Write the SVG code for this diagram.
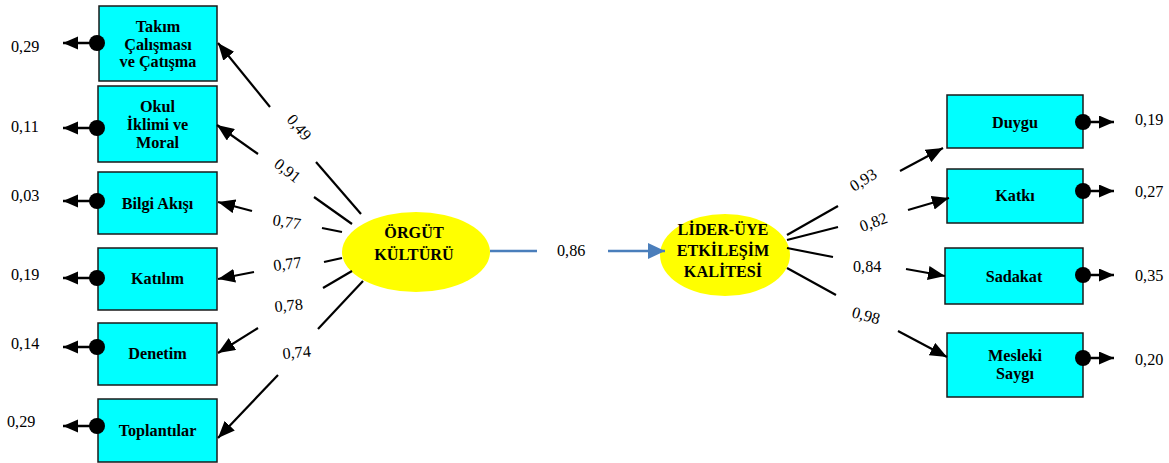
<svg xmlns="http://www.w3.org/2000/svg" width="1169" height="463" viewBox="0 0 1169 463">
  <style>
    .box { fill: #00ffff; stroke: #1a1a1a; stroke-width: 1.5; }
    .lat { fill: #ffff00; stroke: none; }
    .bt { font-family: "Liberation Serif", "Times New Roman", serif; font-weight: bold; font-size: 16.2px; fill: #000; text-anchor: middle; }
    .num { font-family: "Liberation Serif", "Times New Roman", serif; font-size: 16.2px; fill: #000; }
    .ln { stroke: #000; stroke-width: 2.2; fill: none; }
    .arr { stroke: #000; stroke-width: 2.2; fill: none; marker-end: url(#ah); }
    .err { stroke: #000; stroke-width: 2.5; fill: none; marker-end: url(#eh); }
    .dot { fill: #000; }
    .blue { stroke: #4a7ebb; stroke-width: 2.5; fill: none; }
  </style>
  <defs>
    <marker id="ah" markerUnits="userSpaceOnUse" markerWidth="18" markerHeight="14" refX="17" refY="7" orient="auto">
      <path d="M0,0 L17,7 L0,14 z" fill="#000"/>
    </marker>
    <marker id="eh" markerUnits="userSpaceOnUse" markerWidth="16" markerHeight="14" refX="15" refY="6.5" orient="auto">
      <path d="M0,0 L15,6.5 L0,13 z" fill="#000"/>
    </marker>
    <marker id="bh" markerUnits="userSpaceOnUse" markerWidth="18" markerHeight="16" refX="17" refY="8" orient="auto">
      <path d="M0,0 L17,8 L0,16 z" fill="#4a7ebb"/>
    </marker>
  </defs>

  <rect width="1169" height="463" fill="#fff"/>

  <!-- indicators of ÖRGÜT KÜLTÜRÜ -->
  <g id="takim">
    <rect class="box" x="99" y="6" width="118" height="75"/>
    <text class="bt" x="158" y="32">Takım</text>
    <text class="bt" x="158" y="49.5">Çalışması</text>
    <text class="bt" x="158" y="67">ve Çatışma</text>
  </g>
  <g id="okul">
    <rect class="box" x="98" y="86" width="119" height="76"/>
    <text class="bt" x="157.5" y="112">Okul</text>
    <text class="bt" x="157.5" y="130">İklimi ve</text>
    <text class="bt" x="157.5" y="148">Moral</text>
  </g>
  <g id="bilgi">
    <rect class="box" x="98" y="172" width="119" height="62"/>
    <text class="bt" x="157.5" y="209">Bilgi Akışı</text>
  </g>
  <g id="katilim">
    <rect class="box" x="98" y="248" width="119" height="62"/>
    <text class="bt" x="157.5" y="284">Katılım</text>
  </g>
  <g id="denetim">
    <rect class="box" x="98" y="323" width="119" height="62"/>
    <text class="bt" x="157.5" y="359">Denetim</text>
  </g>
  <g id="toplantilar">
    <rect class="box" x="98" y="399" width="119" height="63"/>
    <text class="bt" x="157.5" y="436">Toplantılar</text>
  </g>

  <!-- latent variables -->
  <g id="orgut">
    <ellipse class="lat" cx="416" cy="252" rx="74" ry="40"/>
    <text class="bt" x="414" y="238">ÖRGÜT</text>
    <text class="bt" x="414" y="260">KÜLTÜRÜ</text>
  </g>
  <g id="lmx">
    <ellipse class="lat" cx="725" cy="255" rx="65" ry="41"/>
    <text class="bt" x="723" y="235">LİDER-ÜYE</text>
    <text class="bt" x="723" y="256">ETKİLEŞİM</text>
    <text class="bt" x="723" y="277">KALİTESİ</text>
  </g>

  <!-- indicators of LİDER-ÜYE ETKİLEŞİM KALİTESİ -->
  <g id="duygu">
    <rect class="box" x="947" y="95" width="136" height="53"/>
    <text class="bt" x="1015" y="128">Duygu</text>
  </g>
  <g id="katki">
    <rect class="box" x="947" y="169" width="136" height="54"/>
    <text class="bt" x="1015" y="201">Katkı</text>
  </g>
  <g id="sadakat">
    <rect class="box" x="945" y="248" width="138" height="56"/>
    <text class="bt" x="1014" y="282">Sadakat</text>
  </g>
  <g id="mesleki">
    <rect class="box" x="947" y="333" width="136" height="64"/>
    <text class="bt" x="1015" y="361">Mesleki</text>
    <text class="bt" x="1015" y="379">Saygı</text>
  </g>

  <!-- connectors -->
  <g id="connectors">
    <!-- ÖRGÜT KÜLTÜRÜ to indicators -->
    <line class="ln" x1="361" y1="214" x2="316" y2="162"/>
    <line class="arr" x1="270" y1="107" x2="218" y2="43"/>
    <line class="ln" x1="352" y1="224" x2="314" y2="197"/>
    <line class="arr" x1="258" y1="154" x2="217" y2="125"/>
    <line class="ln" x1="342" y1="232" x2="322" y2="228"/>
    <line class="arr" x1="252" y1="211" x2="218" y2="202"/>
    <line class="ln" x1="342" y1="258" x2="324" y2="262"/>
    <line class="arr" x1="254" y1="272" x2="218" y2="279"/>
    <line class="ln" x1="352" y1="271" x2="323" y2="288"/>
    <line class="arr" x1="258" y1="328" x2="218" y2="353"/>
    <line class="ln" x1="363" y1="281" x2="318" y2="329"/>
    <line class="arr" x1="278" y1="375" x2="218" y2="438"/>

    <!-- structural path -->
    <line class="blue" x1="490" y1="251" x2="537" y2="251"/>
    <line class="blue" x1="608" y1="251" x2="665" y2="251" marker-end="url(#bh)"/>

    <!-- LİDER-ÜYE ETKİLEŞİM KALİTESİ to indicators -->
    <line class="ln" x1="787" y1="235" x2="838" y2="206"/>
    <line class="arr" x1="900" y1="171" x2="943" y2="148"/>
    <line class="ln" x1="787" y1="240" x2="838" y2="227"/>
    <line class="arr" x1="908" y1="210" x2="949" y2="198"/>
    <line class="ln" x1="787" y1="248" x2="833" y2="257"/>
    <line class="arr" x1="906" y1="269" x2="945" y2="276"/>
    <line class="ln" x1="787" y1="268" x2="836" y2="295"/>
    <line class="arr" x1="898" y1="331" x2="947" y2="357"/>

    <!-- error terms, left -->
    <line class="err" x1="97" y1="43" x2="63" y2="43"/>
    <circle class="dot" cx="97" cy="43" r="8"/>
    <line class="err" x1="97" y1="128" x2="63" y2="128"/>
    <circle class="dot" cx="97" cy="128" r="8"/>
    <line class="err" x1="97" y1="201" x2="63" y2="201"/>
    <circle class="dot" cx="97" cy="201" r="8"/>
    <line class="err" x1="97" y1="278" x2="63" y2="278"/>
    <circle class="dot" cx="97" cy="278" r="8"/>
    <line class="err" x1="97" y1="347" x2="63" y2="347"/>
    <circle class="dot" cx="97" cy="347" r="8"/>
    <line class="err" x1="97" y1="426" x2="63" y2="426"/>
    <circle class="dot" cx="97" cy="426" r="8"/>

    <!-- error terms, right -->
    <line class="err" x1="1083" y1="122" x2="1114" y2="122"/>
    <circle class="dot" cx="1083" cy="122" r="8"/>
    <line class="err" x1="1083" y1="191" x2="1114" y2="191"/>
    <circle class="dot" cx="1083" cy="191" r="8"/>
    <line class="err" x1="1083" y1="275" x2="1114" y2="275"/>
    <circle class="dot" cx="1083" cy="275" r="8"/>
    <line class="err" x1="1083" y1="358" x2="1114" y2="358"/>
    <circle class="dot" cx="1083" cy="358" r="8"/>

    <!-- loadings -->
    <text class="num" transform="translate(286,120) rotate(50)">0,49</text>
    <text class="num" transform="translate(273,166) rotate(38)">0,91</text>
    <text class="num" transform="translate(272,225) rotate(9)">0,77</text>
    <text class="num" transform="translate(274,271) rotate(-7)">0,77</text>
    <text class="num" transform="translate(275,312) rotate(-5)">0,78</text>
    <text class="num" transform="translate(283,359) rotate(-5)">0,74</text>
    <text class="num" x="557" y="256">0,86</text>
    <text class="num" transform="translate(854,192) rotate(-32)">0,93</text>
    <text class="num" transform="translate(862,232) rotate(-20)">0,82</text>
    <text class="num" x="853" y="272">0,84</text>
    <text class="num" transform="translate(851,317) rotate(15)">0,98</text>

    <!-- error variances -->
    <text class="num" x="11" y="52">0,29</text>
    <text class="num" x="11" y="132">0,11</text>
    <text class="num" x="11" y="201">0,03</text>
    <text class="num" x="11" y="280">0,19</text>
    <text class="num" x="11" y="349">0,14</text>
    <text class="num" x="7" y="427">0,29</text>
    <text class="num" x="1135" y="125">0,19</text>
    <text class="num" x="1135" y="197">0,27</text>
    <text class="num" x="1135" y="281">0,35</text>
    <text class="num" x="1135" y="365">0,20</text>
  </g>
</svg>
